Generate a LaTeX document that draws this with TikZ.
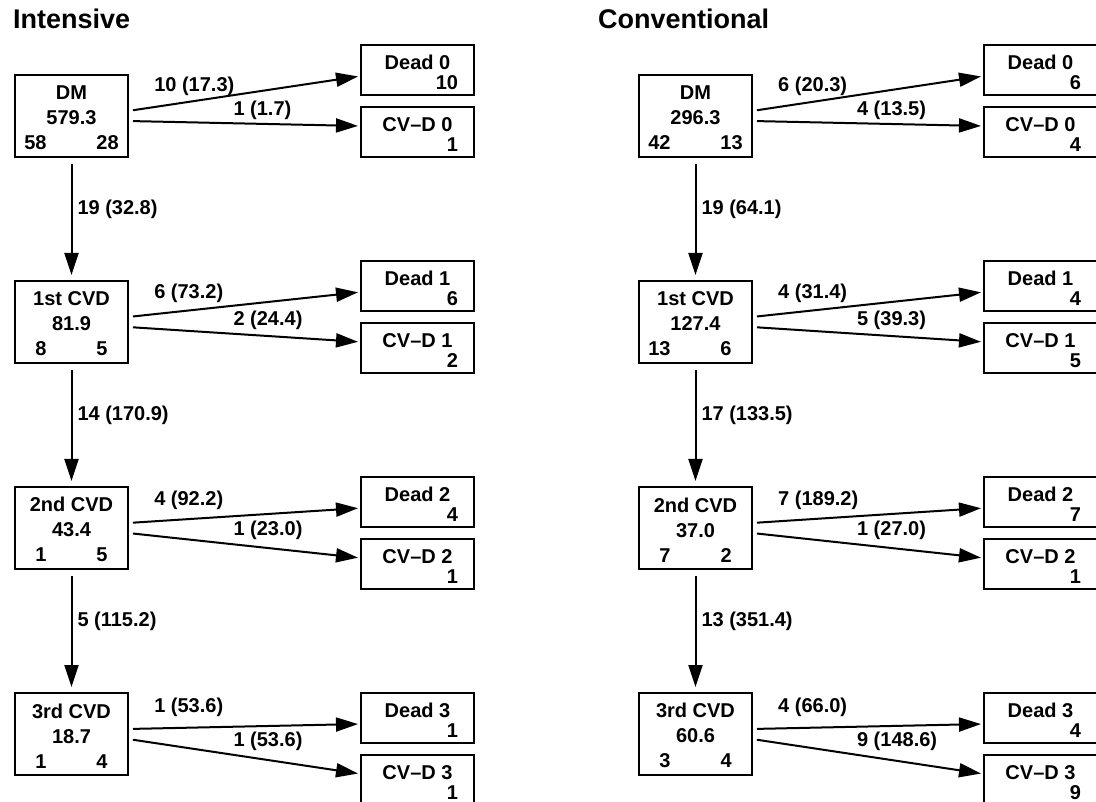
\documentclass[tikz,border=0pt]{standalone}
\usepackage{fontspec}
\setmainfont{Liberation Sans}
\usetikzlibrary{arrows.meta,positioning}
\newcommand{\cvd}[4]{\rule{0pt}{18pt}#1\\#2\\\makebox[22pt][r]{#3}\hspace{50pt}\makebox[22pt][l]{#4}}
\newcommand{\fate}[2]{\rule{0pt}{19pt}#1\\\makebox[81pt][r]{#2}}

\begin{document}
\begin{tikzpicture}[x=1pt,y=-1pt,>={Triangle[length=22pt,width=14pt]},
  cvdbox/.style={draw,line width=2pt,outer sep=0pt,minimum width=113pt,minimum height=82pt,inner sep=0pt,
                 align=center,font=\bfseries\fontsize{20}{25}\selectfont},
  endbox/.style={draw,line width=2pt,outer sep=0pt,minimum width=113pt,minimum height=50pt,inner sep=0pt,
                 align=center,font=\bfseries\fontsize{20}{20}\selectfont},
  flow/.style={->,line width=2pt},
  side/.style={flow,shorten <=5pt,shorten >=3pt},
  down/.style={flow,shorten <=7pt,shorten >=6pt},
  lbl/.style={inner sep=2pt,font=\bfseries\fontsize{20}{21}\selectfont},
  paneltitle/.style={anchor=base west,inner sep=0pt,font=\bfseries\fontsize{27}{30}\selectfont},
  node distance=124pt]
  \useasboundingbox (0,0) rectangle (1096,802);

  % intensive
  \node[paneltitle] (ttl-i) at (13,29) {Intensive};
  \node[cvdbox] (i-dm) at (71.5,116) {\cvd{DM}{579.3}{58}{28}};
  \node[cvdbox,below=of i-dm] (i-c1) {\cvd{1st CVD}{81.9}{8}{5}};
  \node[cvdbox,below=of i-c1] (i-c2) {\cvd{2nd CVD}{43.4}{1}{5}};
  \node[cvdbox,below=of i-c2] (i-c3) {\cvd{3rd CVD}{18.7}{1}{4}};
  \node[endbox] (i-d0) at (417.5,70) {\fate{Dead 0}{10}};
  \node[endbox,below=12pt of i-d0] (i-v0) {\fate{CV--D 0}{1}};
  \node[endbox,below=104pt of i-v0] (i-d1) {\fate{Dead 1}{6}};
  \node[endbox,below=12pt of i-d1] (i-v1) {\fate{CV--D 1}{2}};
  \node[endbox,below=104pt of i-v1] (i-d2) {\fate{Dead 2}{4}};
  \node[endbox,below=12pt of i-d2] (i-v2) {\fate{CV--D 2}{1}};
  \node[endbox,below=104pt of i-v2] (i-d3) {\fate{Dead 3}{1}};
  \node[endbox,below=12pt of i-d3] (i-v3) {\fate{CV--D 3}{1}};

  \draw[down] (i-dm) -- node[lbl,pos=0.42,anchor=west,xshift=3pt] {19 (32.8)} (i-c1);
  \draw[down] (i-c1) -- node[lbl,pos=0.42,anchor=west,xshift=3pt] {14 (170.9)} (i-c2);
  \draw[down] (i-c2) -- node[lbl,pos=0.42,anchor=west,xshift=3pt] {5 (115.2)} (i-c3);
  \draw[side] ([yshift=5pt]i-dm.east) -- node[lbl,pos=0.1,anchor=south west,yshift=9pt] {10 (17.3)} ([yshift=19pt]i-d0.south west);
  \draw[side] ([yshift=-5pt]i-dm.east) -- node[lbl,pos=0.44,anchor=south west,yshift=1pt] {1 (1.7)} ([yshift=-19pt]i-v0.north west);
  \draw[side] ([yshift=5pt]i-c1.east) -- node[lbl,pos=0.1,anchor=south west,yshift=9pt] {6 (73.2)} ([yshift=19pt]i-d1.south west);
  \draw[side] ([yshift=-5pt]i-c1.east) -- node[lbl,pos=0.44,anchor=south west,yshift=1pt] {2 (24.4)} ([yshift=-19pt]i-v1.north west);
  \draw[side] ([yshift=5pt]i-c2.east) -- node[lbl,pos=0.1,anchor=south west,yshift=9pt] {4 (92.2)} ([yshift=19pt]i-d2.south west);
  \draw[side] ([yshift=-5pt]i-c2.east) -- node[lbl,pos=0.44,anchor=south west,yshift=1pt] {1 (23.0)} ([yshift=-19pt]i-v2.north west);
  \draw[side] ([yshift=5pt]i-c3.east) -- node[lbl,pos=0.1,anchor=south west,yshift=9pt] {1 (53.6)} ([yshift=19pt]i-d3.south west);
  \draw[side] ([yshift=-5pt]i-c3.east) -- node[lbl,pos=0.44,anchor=south west,yshift=1pt] {1 (53.6)} ([yshift=-19pt]i-v3.north west);

  % conventional
  \node[paneltitle] (ttl-c) at (598,29) {Conventional};
  \node[cvdbox] (c-dm) at (695.5,116) {\cvd{DM}{296.3}{42}{13}};
  \node[cvdbox,below=of c-dm] (c-c1) {\cvd{1st CVD}{127.4}{13}{6}};
  \node[cvdbox,below=of c-c1] (c-c2) {\cvd{2nd CVD}{37.0}{7}{2}};
  \node[cvdbox,below=of c-c2] (c-c3) {\cvd{3rd CVD}{60.6}{3}{4}};
  \node[endbox] (c-d0) at (1040.5,70) {\fate{Dead 0}{6}};
  \node[endbox,below=12pt of c-d0] (c-v0) {\fate{CV--D 0}{4}};
  \node[endbox,below=104pt of c-v0] (c-d1) {\fate{Dead 1}{4}};
  \node[endbox,below=12pt of c-d1] (c-v1) {\fate{CV--D 1}{5}};
  \node[endbox,below=104pt of c-v1] (c-d2) {\fate{Dead 2}{7}};
  \node[endbox,below=12pt of c-d2] (c-v2) {\fate{CV--D 2}{1}};
  \node[endbox,below=104pt of c-v2] (c-d3) {\fate{Dead 3}{4}};
  \node[endbox,below=12pt of c-d3] (c-v3) {\fate{CV--D 3}{9}};

  \draw[down] (c-dm) -- node[lbl,pos=0.42,anchor=west,xshift=3pt] {19 (64.1)} (c-c1);
  \draw[down] (c-c1) -- node[lbl,pos=0.42,anchor=west,xshift=3pt] {17 (133.5)} (c-c2);
  \draw[down] (c-c2) -- node[lbl,pos=0.42,anchor=west,xshift=3pt] {13 (351.4)} (c-c3);
  \draw[side] ([yshift=5pt]c-dm.east) -- node[lbl,pos=0.1,anchor=south west,yshift=9pt] {6 (20.3)} ([yshift=19pt]c-d0.south west);
  \draw[side] ([yshift=-5pt]c-dm.east) -- node[lbl,pos=0.44,anchor=south west,yshift=1pt] {4 (13.5)} ([yshift=-19pt]c-v0.north west);
  \draw[side] ([yshift=5pt]c-c1.east) -- node[lbl,pos=0.1,anchor=south west,yshift=9pt] {4 (31.4)} ([yshift=19pt]c-d1.south west);
  \draw[side] ([yshift=-5pt]c-c1.east) -- node[lbl,pos=0.44,anchor=south west,yshift=1pt] {5 (39.3)} ([yshift=-19pt]c-v1.north west);
  \draw[side] ([yshift=5pt]c-c2.east) -- node[lbl,pos=0.1,anchor=south west,yshift=9pt] {7 (189.2)} ([yshift=19pt]c-d2.south west);
  \draw[side] ([yshift=-5pt]c-c2.east) -- node[lbl,pos=0.44,anchor=south west,yshift=1pt] {1 (27.0)} ([yshift=-19pt]c-v2.north west);
  \draw[side] ([yshift=5pt]c-c3.east) -- node[lbl,pos=0.1,anchor=south west,yshift=9pt] {4 (66.0)} ([yshift=19pt]c-d3.south west);
  \draw[side] ([yshift=-5pt]c-c3.east) -- node[lbl,pos=0.44,anchor=south west,yshift=1pt] {9 (148.6)} ([yshift=-19pt]c-v3.north west);
\end{tikzpicture}
\end{document}
